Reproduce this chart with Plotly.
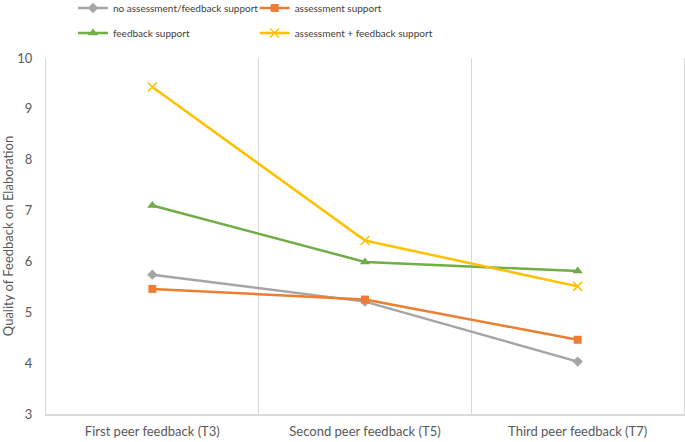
import plotly.graph_objs as go

# time points
categories = ['First peer feedback (T3)', 'Second peer feedback (T5)', 'Third peer feedback (T7)']

# group means
no_support = [5.74, 5.21, 4.03]
assessment_support = [5.46, 5.25, 4.46]
feedback_support = [7.10, 5.99, 5.81]
assessment_feedback_support = [9.43, 6.41, 5.51]

font_family = 'Lato, "Open Sans", sans-serif'

fig = go.Figure()

fig.add_trace(go.Scatter(
    x=categories, y=no_support,
    mode='lines+markers',
    name='no assessment/feedback support',
    line=dict(color='#A5A5A5', width=2.5),
    marker=dict(symbol='diamond', size=8, color='#A5A5A5'),
    legend='legend'
))
fig.add_trace(go.Scatter(
    x=categories, y=assessment_support,
    mode='lines+markers',
    name='assessment support',
    line=dict(color='#ED7D31', width=2.5),
    marker=dict(symbol='square', size=8, color='#ED7D31'),
    legend='legend2'
))
fig.add_trace(go.Scatter(
    x=categories, y=feedback_support,
    mode='lines+markers',
    name='feedback support',
    line=dict(color='#70AD47', width=2.5),
    marker=dict(symbol='triangle-up', size=9, color='#70AD47'),
    legend='legend3'
))
fig.add_trace(go.Scatter(
    x=categories, y=assessment_feedback_support,
    mode='lines+markers',
    name='assessment + feedback support',
    line=dict(color='#FFC000', width=2.5),
    marker=dict(symbol='x-thin', size=9, color='#FFC000', line=dict(color='#FFC000', width=1.5)),
    legend='legend4'
))

# one legend per entry so the 2x2 grid lines up like the original
legend_style = dict(
    orientation='h', xanchor='left', yanchor='middle',
    font=dict(family=font_family, size=10, color='#404040'),
    bgcolor='rgba(0,0,0,0)', itemwidth=30
)

fig.update_layout(
    width=685, height=442,
    margin=dict(l=46, r=1, t=58, b=28, autoexpand=False),
    paper_bgcolor='white', plot_bgcolor='white',
    font=dict(family=font_family, size=13, color='#595959'),
    showlegend=True,
    legend=dict(legend_style, x=0.0423, y=1.1404),
    legend2=dict(legend_style, x=0.327, y=1.1404),
    legend3=dict(legend_style, x=0.0423, y=1.0702),
    legend4=dict(legend_style, x=0.327, y=1.0702),
    xaxis=dict(
        type='category', range=[-0.5, 2.5],
        tickson='boundaries', showgrid=True, gridcolor='#D9D9D9', gridwidth=1,
        showline=True, linecolor='#D9D9D9', linewidth=1.5,
        ticks='', ticklabelstandoff=5, tickfont=dict(size=13, color='#595959'),
        zeroline=False
    ),
    yaxis=dict(
        range=[3, 10], dtick=1, showgrid=False, zeroline=False,
        showline=True, mirror=True, linecolor='#D9D9D9', linewidth=1,
        ticks='', ticklabelstandoff=10,
        tickfont=dict(size=13, color='#595959'),
        title=dict(text='Quality of Feedback on Elaboration', standoff=2,
                   font=dict(size=13, color='#595959'))
    )
)

# the page's default body margin would push the chart 8px down and right
fig.write_html('out.html', config={'displayModeBar': False},
               post_script="document.body.style.margin='0';")
